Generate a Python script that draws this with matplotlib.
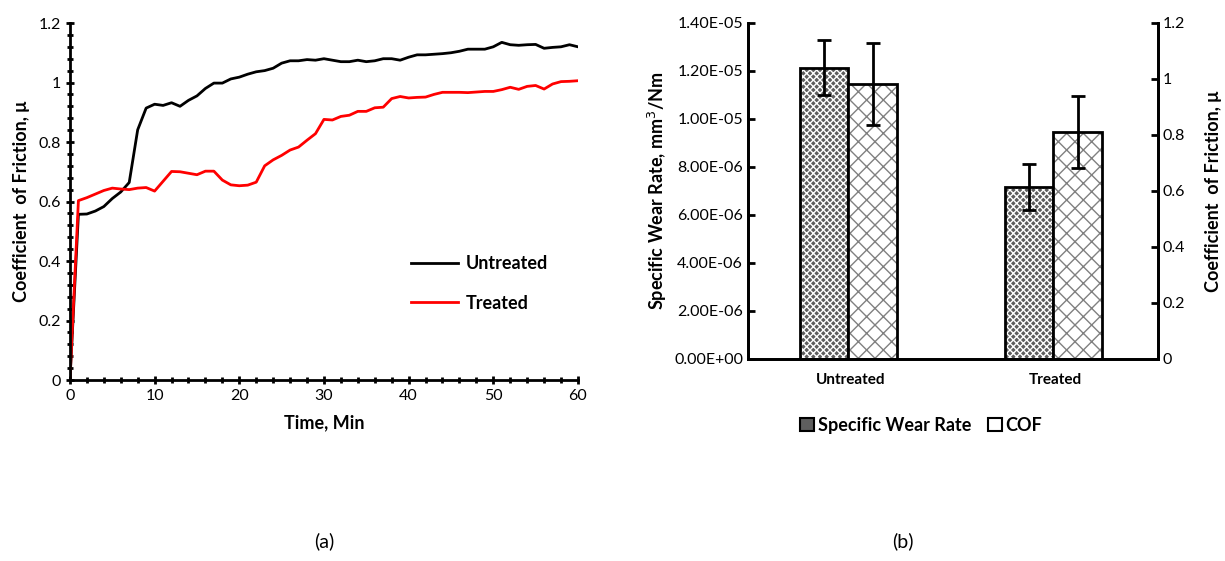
import numpy as np
import matplotlib.pyplot as plt
from matplotlib.patches import Patch
from matplotlib.ticker import MultipleLocator

plt.rcParams['font.family'] = ['Lato', 'DejaVu Sans']
plt.rcParams['hatch.linewidth'] = 1.0

# (a) COF vs time
time_min = list(range(0, 61))
cof_untreated = [
    0.0, 0.557, 0.558, 0.568, 0.583, 0.61, 0.632, 0.664, 0.841, 0.914,
    0.927, 0.923, 0.932, 0.92, 0.94, 0.955, 0.98, 0.998, 0.998, 1.012,
    1.018, 1.028, 1.036, 1.04, 1.048, 1.065, 1.073, 1.073, 1.077, 1.075,
    1.08, 1.075, 1.07, 1.07, 1.075, 1.07, 1.073, 1.08, 1.08, 1.075,
    1.085, 1.093, 1.093, 1.095, 1.097, 1.1, 1.105, 1.112, 1.112, 1.112,
    1.12, 1.135, 1.127, 1.125, 1.127, 1.128, 1.115, 1.118, 1.12, 1.127,
    1.12,
]
cof_treated = [
    0.0, 0.603, 0.613, 0.625, 0.637, 0.645, 0.642, 0.64, 0.645, 0.647,
    0.635, 0.668, 0.701, 0.7, 0.695, 0.69, 0.702, 0.702, 0.672, 0.656,
    0.653, 0.655, 0.665, 0.72, 0.74, 0.755, 0.773, 0.783, 0.806, 0.828,
    0.876, 0.874, 0.886, 0.89, 0.903, 0.903, 0.915, 0.917, 0.946, 0.953,
    0.948, 0.95, 0.951, 0.96, 0.967, 0.967, 0.967, 0.966, 0.968, 0.97,
    0.97, 0.976, 0.984, 0.977, 0.987, 0.99, 0.978, 0.995, 1.003, 1.004,
    1.006,
]

# (b) wear rate and COF bars
categories = ["Untreated", "Treated"]
wear_rate = [1.213e-05, 7.17e-06]
wear_err = [1.15e-06, 9.7e-07]
cof_mean = [0.982, 0.81]
cof_err = [0.145, 0.128]

fig = plt.figure(figsize=(12.25, 5.61), dpi=100)

# ---------------- panel (a) ----------------
ax1 = fig.add_axes([0.0571, 0.3226, 0.4147, 0.6364])
ax1.plot(time_min, cof_untreated, color='black', lw=2, label='Untreated')
ax1.plot(time_min, cof_treated, color='#ff0000', lw=2, label='Treated')
ax1.set_xlim(0, 60)
ax1.set_ylim(0, 1.2)
ax1.xaxis.set_major_locator(MultipleLocator(10))
ax1.xaxis.set_minor_locator(MultipleLocator(2))
ax1.yaxis.set_minor_locator(MultipleLocator(0.04))
ax1.set_yticks([0, 0.2, 0.4, 0.6, 0.8, 1.0, 1.2])
ax1.set_yticklabels(['0', '0.2', '0.4', '0.6', '0.8', '1', '1.2'])
for s in ['top', 'right']:
    ax1.spines[s].set_visible(False)
for s in ['left', 'bottom']:
    ax1.spines[s].set_linewidth(2)
ax1.tick_params(which='both', direction='inout', width=2, labelsize=11.5)
ax1.tick_params(which='major', length=6)
ax1.tick_params(which='minor', length=5)
ax1.set_xlabel('Time, Min', fontsize=13, fontweight='bold', labelpad=8)
ax1.set_ylabel('Coefficient  of Friction, μ', fontsize=13, fontweight='bold', labelpad=6)
ax1.legend(loc='upper left', bbox_to_anchor=(0.64, 0.395), frameon=False,
           prop={'size': 13, 'weight': 'bold'}, handlelength=2.6,
           labelspacing=1.25, handletextpad=0.4)

# ---------------- panel (b) ----------------
ax2 = fig.add_axes([0.6106, 0.3601, 0.3347, 0.599])
ax3 = ax2.twinx()
x = np.array([0.5, 1.5]) - 0.01
w = 0.236

# wear rate bars: dark grey with fine white pattern
ax2.bar(x - w / 2, wear_rate, w, color='#5e5e5e', edgecolor='white',
        hatch='xxxxx', lw=0, zorder=2)
ax2.bar(x - w / 2, wear_rate, w, color='none', edgecolor='black', lw=2, zorder=3)
ax2.errorbar(x - w / 2, wear_rate, yerr=wear_err, fmt='none', ecolor='black',
             elinewidth=2, capsize=5, capthick=2, zorder=4)

# COF bars: white with grey diagonal pattern
ax3.bar(x + w / 2, cof_mean, w, color='white', edgecolor='#808080',
        hatch='xx', lw=0, zorder=2)
ax3.bar(x + w / 2, cof_mean, w, color='none', edgecolor='black', lw=2, zorder=3)
ax3.errorbar(x + w / 2, cof_mean, yerr=cof_err, fmt='none', ecolor='black',
             elinewidth=2, capsize=5, capthick=2, zorder=4)

ax2.set_xlim(0, 2)
ax2.set_ylim(0, 1.4e-05)
ax3.set_ylim(0, 1.2)
wear_ticks = np.arange(0, 1.41e-05, 2e-06)
ax2.set_yticks(wear_ticks)
ax2.set_yticklabels(['%.2E' % v for v in wear_ticks])
ax3.set_yticks([0, 0.2, 0.4, 0.6, 0.8, 1.0, 1.2])
ax3.set_yticklabels(['0', '0.2', '0.4', '0.6', '0.8', '1', '1.2'])
ax2.set_xticks([0.5, 1.5])
ax2.set_xticklabels(categories, fontweight='bold', fontsize=11)
for ax in (ax2, ax3):
    ax.spines['top'].set_visible(False)
    for s in ['left', 'right', 'bottom']:
        ax.spines[s].set_linewidth(2)
ax2.tick_params(axis='x', length=0, pad=10)
ax2.tick_params(axis='y', direction='in', width=2, length=5, labelsize=11.5)
ax3.tick_params(axis='y', direction='in', width=2, length=5, labelsize=11.5)
ax2.set_ylabel('Specific Wear Rate, mm$^3$/Nm', fontsize=13, fontweight='bold', labelpad=4)
ax3.set_ylabel('Coefficient  of Friction, μ', fontsize=13, fontweight='bold', labelpad=14)

handles = [
    Patch(facecolor='#5e5e5e', edgecolor='black', lw=1.5, label='Specific Wear Rate'),
    Patch(facecolor='white', edgecolor='black', lw=1.5, label='COF'),
]
fig.legend(handles=handles, loc='center', bbox_to_anchor=(0.752, 0.242), ncol=2,
           frameon=False, prop={'size': 13, 'weight': 'bold'},
           handlelength=0.8, handleheight=0.8, handletextpad=0.2, columnspacing=0.9)

fig.text(0.265, 0.02, '(a)', fontsize=14, ha='center', va='bottom')
fig.text(0.737, 0.02, '(b)', fontsize=14, ha='center', va='bottom')

fig.savefig('out.png', dpi=100)
